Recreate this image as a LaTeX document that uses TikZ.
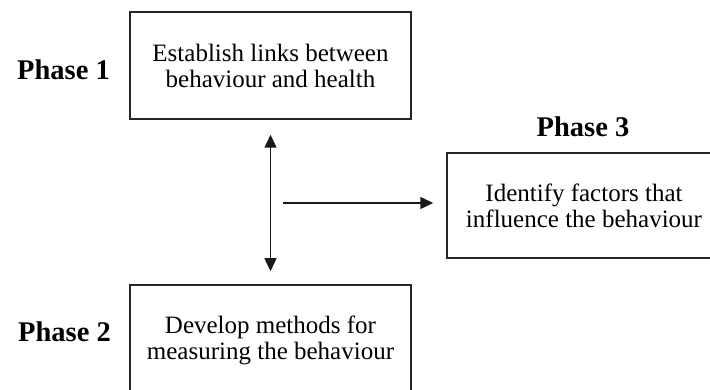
\documentclass[tikz,border=0pt]{standalone}
\usepackage{fontspec}
\setmainfont{Liberation Serif}
\usetikzlibrary{arrows.meta}
\begin{document}
\begin{tikzpicture}[x=1pt,y=-1pt,
  phasebox/.style={draw=black!85, line width=1.5pt, align=center, inner sep=0pt,
    font=\fontsize{25}{26}\selectfont},
  phaselabel/.style={font=\bfseries\fontsize{28.5}{30}\selectfont, inner sep=0pt},
  tip/.tip={Triangle[length=13pt,width=12pt]},
  link/.style={line width=1.5pt, draw=black!90, -tip}]
\useasboundingbox (0,0) rectangle (710,390);
\clip (0,0) rectangle (710,390);
% the three phase boxes
\node[phasebox, minimum width=281pt, minimum height=107pt] (b1) at (270.5,65.5)
  {Establish links between\\behaviour and health};
\node[phasebox, minimum width=281pt, minimum height=110pt] (b2) at (270.5,340)
  {Develop methods for\\measuring the behaviour};
\node[phasebox, minimum width=274pt, minimum height=105pt] (b3) at (584,205.5)
  {Identify factors that\\influence the behaviour};
% phase labels
\node[phaselabel] (l1) at (63.5,70) {Phase 1};
\node[phaselabel] (l2) at (64.5,332) {Phase 2};
\node[phaselabel] (l3) at (583,127) {Phase 3};
% connectors
\draw[link, tip-tip, shorten <=15pt, shorten >=13pt] (b1.south) -- (b2.north);
\coordinate (h) at (283,203);
\draw[link, shorten >=13pt] (h) -- (b3.west |- h);
\end{tikzpicture}
\end{document}
